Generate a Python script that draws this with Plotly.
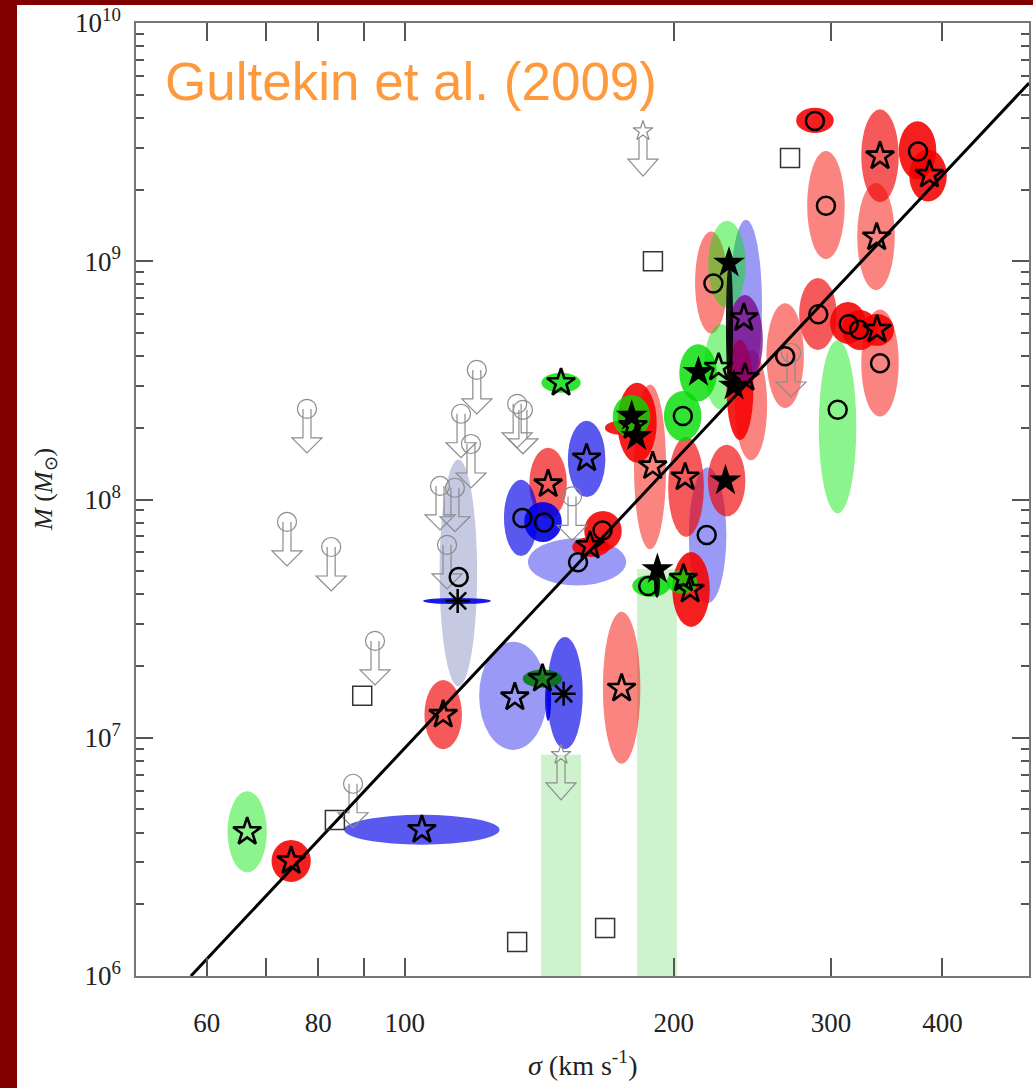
import plotly.graph_objects as go

# ---------------- data ----------------
x_tickvals = [60, 70, 80, 90, 100, 200, 300, 400]
x_ticktext = ["60", "", "80", "", "100", "200", "300", "400"]
y_tickvals = [1e6, 1e7, 1e8, 1e9, 1e10]
y_ticktext = ["10<sup>6</sup>", "10<sup>7</sup>", "10<sup>8</sup>", "10<sup>9</sup>", "10<sup>10</sup>"]

fit_sigma = [57.6, 500.0]
fit_mass = [1.0e6, 5.6e9]

# error ellipses: centre, half-size in dex, sample colour group
ell_sigma = [66.6, 74.6, 104.5, 110.4, 114.8, 114.4, 132.2, 151.1, 144.7, 142.6,
             149.6, 144.7, 159.8, 134.9, 142.8, 155.9, 166.7, 161.6, 182.0, 179.4,
             174.2, 188.2, 206.5, 204.7, 213.0, 220.3, 229.5, 241.0, 240.4, 231.0,
             226.0, 237.3, 244.2, 266.6, 290.1, 313.5, 323.3, 337.9, 340.5, 305.2,
             287.9, 296.2, 340.5, 337.0, 375.1, 385.4, 229.3, 218.3, 188.7, 204.4,
             209.2, 174.9, 191.6]
ell_mass = [4.03e6, 3.04e6, 4.11e6, 1.25e7, 4.92e7, 3.75e7, 1.50e7, 1.54e7, 1.44e7, 1.77e7,
            3.09e8, 1.17e8, 1.48e8, 8.37e7, 8.05e7, 5.47e7, 7.38e7, 6.32e7, 2.10e8, 2.23e8,
            2.00e8, 1.37e8, 1.13e8, 2.24e8, 3.40e8, 8.15e8, 9.70e8, 6.56e8, 4.67e8, 5.40e8,
            3.60e8, 2.88e8, 2.49e8, 4.02e8, 6.01e8, 5.51e8, 5.15e8, 5.15e8, 3.74e8, 2.02e8,
            3.90e9, 1.72e9, 2.77e9, 1.27e9, 2.92e9, 2.29e9, 1.20e8, 7.07e7, 4.34e7, 4.51e7,
            4.19e7, 1.62e7, 4.47e7]
ell_dsig = [0.022, 0.022, 0.087, 0.021, 0.021, 0.038, 0.038, 0.020, 0.0034, 0.022,
            0.022, 0.021, 0.021, 0.019, 0.021, 0.055, 0.021, 0.021, 0.022, 0.021,
            0.017, 0.018, 0.020, 0.021, 0.021, 0.018, 0.021, 0.018, 0.020, 0.004,
            0.019, 0.015, 0.018, 0.021, 0.021, 0.020, 0.020, 0.019, 0.021, 0.021,
            0.021, 0.021, 0.021, 0.021, 0.021, 0.021, 0.021, 0.021, 0.021, 0.017,
            0.021, 0.021, 0.0034]
ell_dmass = [0.170, 0.088, 0.063, 0.145, 0.476, 0.013, 0.227, 0.235, 0.088, 0.038,
             0.042, 0.149, 0.160, 0.160, 0.084, 0.099, 0.084, 0.042, 0.168, 0.090,
             0.029, 0.346, 0.210, 0.105, 0.120, 0.214, 0.183, 0.357, 0.189, 0.273,
             0.180, 0.210, 0.231, 0.220, 0.151, 0.088, 0.084, 0.067, 0.225, 0.363,
             0.053, 0.227, 0.195, 0.225, 0.122, 0.109, 0.151, 0.285, 0.046, 0.050,
             0.157, 0.319, 0.063]
ell_group = ["lgreen", "red", "blue", "mred", "gray", "dblue", "lblue", "blue", "dblue", "dgreen",
             "green", "mred", "blue", "blue", "dblue", "lblue", "red", "red", "red", "green",
             "red", "salmon", "mred", "green", "green", "salmon", "lgreen", "lblue", "purple", "black",
             "lgreen", "red", "salmon", "salmon", "mred", "red", "red", "red", "salmon", "lgreen",
             "red", "salmon", "mred", "salmon", "red", "red", "mred", "lblue", "green", "green",
             "red", "salmon", "black"]

open_star_sigma = [66.6, 74.6, 104.5, 110.4, 132.8, 142.6, 149.6, 144.7, 159.8, 161.2, 180.1, 189.5,
                   206.0, 224.6, 240.4, 239.7, 337.9, 340.5, 337.6, 386.8, 205.1, 208.7, 174.9]
open_star_mass = [4.03e6, 3.04e6, 4.11e6, 1.25e7, 1.48e7, 1.77e7, 3.09e8, 1.16e8, 1.49e8, 6.39e7,
                  2.04e8, 1.38e8, 1.24e8, 3.58e8, 3.24e8, 5.78e8, 5.17e8, 2.76e9, 1.26e9, 2.31e9,
                  4.66e7, 4.19e7, 1.61e7]

filled_star_sigma = [179.5, 181.8, 213.2, 230.7, 233.7, 228.6, 191.8]
filled_star_mass = [2.24e8, 1.84e8, 3.42e8, 9.84e8, 3.00e8, 1.20e8, 5.09e7]

circle_sigma = [114.9, 135.4, 143.2, 156.3, 166.5, 204.8, 221.6, 266.6, 290.4, 314.1, 322.7,
                340.5, 305.3, 287.9, 296.2, 375.6, 217.8, 187.3]
circle_mass = [4.73e7, 8.37e7, 8.01e7, 5.45e7, 7.42e7, 2.24e8, 8.07e8, 3.99e8, 5.99e8, 5.44e8,
               5.16e8, 3.73e8, 2.38e8, 3.88e9, 1.71e9, 2.89e9, 7.09e7, 4.33e7]

asterisk_sigma = [114.6, 150.6]
asterisk_mass = [3.75e7, 1.53e7]

square_sigma = [270.0, 189.6, 89.6, 83.5, 133.6, 167.6]
square_mass = [2.71e9, 1.00e9, 1.50e7, 4.52e6, 1.39e6, 1.59e6]

limit_circle_sigma = [73.8, 77.7, 82.7, 87.5, 92.6, 109.5, 111.5, 113.8, 115.6, 118.6, 120.4,
                      133.6, 135.6, 153.9, 270.7]
limit_circle_mass = [8.05e7, 2.40e8, 6.32e7, 6.41e6, 2.55e7, 1.14e8, 6.45e7, 1.12e8, 2.29e8,
                     1.71e8, 3.50e8, 2.52e8, 2.38e8, 1.03e8, 4.12e8]

limit_star_sigma = [184.8, 149.6]
limit_star_mass = [3.52e9, 8.48e6]

band_sigma_lo = [142.1, 182.0]
band_sigma_hi = [157.5, 201.7]
band_mass_top = [8.48e6, 5.11e7]

# ---------------- styles ----------------
group_style = {
    "gray":   ("rgb(110,120,180)", 0.40),
    "salmon": ("rgb(245,10,0)", 0.50),
    "lblue":  ("rgb(30,30,235)", 0.45),
    "lgreen": ("rgb(0,230,0)", 0.45),
    "mred":   ("rgb(240,0,0)", 0.65),
    "blue":   ("rgb(0,0,230)", 0.65),
    "red":    ("rgb(245,0,0)", 0.88),
    "green":  ("rgb(0,220,0)", 0.80),
    "dblue":  ("rgb(0,0,230)", 0.90),
    "dgreen": ("rgb(0,120,0)", 0.85),
    "purple": ("rgb(120,0,130)", 0.75),
    "black":  ("rgb(0,0,0)", 0.90),
}
draw_order = ["gray", "salmon", "lblue", "lgreen", "mred", "blue", "red", "green",
              "dblue", "dgreen", "purple", "black"]

GRAY = "#8c8c8c"
SERIF = "Liberation Serif, Times New Roman, serif"
FRAME = "#800000"

# plot area in pixels
L, R, T, B = 136, 4, 23, 112
W, H = 1033, 1088
pw, ph = W - L - R, H - T - B

shapes = []
# dark-red frame at left and top of the page
shapes.append(dict(type="rect", xref="paper", yref="paper",
                   x0=-L / pw - 0.05, x1=(17 - L) / pw, y0=-0.3, y1=1.2,
                   fillcolor=FRAME, line=dict(width=0), layer="below"))
shapes.append(dict(type="rect", xref="paper", yref="paper",
                   x0=-L / pw - 0.05, x1=1.2, y0=(H - B - 5) / ph, y1=1.2,
                   fillcolor=FRAME, line=dict(width=0), layer="below"))

for lo, hi, top in zip(band_sigma_lo, band_sigma_hi, band_mass_top):
    shapes.append(dict(type="rect", xref="x", yref="y", x0=lo, x1=hi, y0=1e6, y1=top,
                       fillcolor="rgb(60,200,60)", opacity=0.25, line=dict(width=0),
                       layer="below"))

for g in draw_order:
    col, op = group_style[g]
    for s, m, ds, dm, gg in zip(ell_sigma, ell_mass, ell_dsig, ell_dmass, ell_group):
        if gg != g:
            continue
        shapes.append(dict(type="circle", xref="x", yref="y",
                           x0=s * 10 ** (-ds), x1=s * 10 ** ds,
                           y0=m * 10 ** (-dm), y1=m * 10 ** dm,
                           fillcolor=col, opacity=op, line=dict(width=0), layer="below"))

arrow_circle = "M -4 0 L -4 -29 L -15 -29 L 0 -44 L 15 -29 L 4 -29 L 4 0"
arrow_star = "M -4 -7 L -4 -28 L -15 -28 L 0 -45 L 15 -28 L 4 -28 L 4 -7"
for s, m in zip(limit_circle_sigma, limit_circle_mass):
    shapes.append(dict(type="path", xref="x", yref="y", xsizemode="pixel", ysizemode="pixel",
                       xanchor=s, yanchor=m, path=arrow_circle,
                       line=dict(color=GRAY, width=1.2), layer="below"))
for s, m in zip(limit_star_sigma, limit_star_mass):
    shapes.append(dict(type="path", xref="x", yref="y", xsizemode="pixel", ysizemode="pixel",
                       xanchor=s, yanchor=m, path=arrow_star,
                       line=dict(color=GRAY, width=1.2), layer="below"))

fig = go.Figure()

fig.add_trace(go.Scatter(x=limit_circle_sigma, y=limit_circle_mass, mode="markers",
                         marker=dict(symbol="circle-open", size=19,
                                     line=dict(color=GRAY, width=1.2), color=GRAY)))
fig.add_trace(go.Scatter(x=limit_star_sigma, y=limit_star_mass, mode="markers",
                         marker=dict(symbol="star-open", size=15,
                                     line=dict(color=GRAY, width=1.2), color=GRAY)))
fig.add_trace(go.Scatter(x=fit_sigma, y=fit_mass, mode="lines",
                         line=dict(color="black", width=3)))
fig.add_trace(go.Scatter(x=square_sigma, y=square_mass, mode="markers",
                         marker=dict(symbol="square-open", size=19, color="#333",
                                     line=dict(color="#333", width=1.5))))
fig.add_trace(go.Scatter(x=circle_sigma, y=circle_mass, mode="markers",
                         marker=dict(symbol="circle-open", size=18, color="black",
                                     line=dict(color="black", width=2.5))))
fig.add_trace(go.Scatter(x=open_star_sigma, y=open_star_mass, mode="markers",
                         marker=dict(symbol="star-open", size=21, color="black",
                                     line=dict(color="black", width=2.6))))
fig.add_trace(go.Scatter(x=filled_star_sigma, y=filled_star_mass, mode="markers",
                         marker=dict(symbol="star", size=24, color="black",
                                     line=dict(width=0))))
fig.add_trace(go.Scatter(x=asterisk_sigma, y=asterisk_mass, mode="markers",
                         marker=dict(symbol="asterisk-open", size=20, color="black",
                                     line=dict(color="black", width=2.5))))
# invisible trace carrying the mirrored right-hand axis (for its minor ticks)
fig.add_trace(go.Scatter(x=fit_sigma, y=fit_mass, yaxis="y2", mode="lines",
                         line=dict(width=0), opacity=0, hoverinfo="skip"))

y_minor = [k * 10 ** n for n in range(6, 10) for k in range(2, 10)]
tick_style = dict(ticks="inside", tickwidth=1.5, tickcolor="#555")
minor_style = dict(ticks="inside", ticklen=8, tickwidth=1.5, tickcolor="#555",
                   tickmode="array", tickvals=y_minor, showgrid=False)

fig.update_layout(
    width=W, height=H,
    margin=dict(l=L, r=R, t=T, b=B, autoexpand=False),
    paper_bgcolor="white",
    plot_bgcolor="white",
    showlegend=False,
    shapes=shapes,
    xaxis=dict(type="log", range=[1.69897, 2.69897], tickmode="array",
               tickvals=x_tickvals, ticktext=x_ticktext, automargin=False,
               ticklen=18, **tick_style,
               showline=True, linecolor="#777", linewidth=1.5, mirror="ticks",
               showgrid=False, zeroline=False, ticklabelstandoff=22,
               tickfont=dict(family=SERIF, size=27, color="#222")),
    yaxis=dict(type="log", range=[6, 10], tickmode="array",
               tickvals=y_tickvals, ticktext=y_ticktext, automargin=False,
               ticklen=17, **tick_style,
               showline=True, linecolor="#777", linewidth=1.5, mirror=True,
               showgrid=False, zeroline=False, ticklabelstandoff=8,
               minor=minor_style,
               tickfont=dict(family=SERIF, size=27, color="#222")),
    yaxis2=dict(type="log", range=[6, 10], overlaying="y", side="right",
                tickmode="array", tickvals=y_tickvals, showticklabels=False,
                automargin=False, ticklen=17, **tick_style,
                showline=False, showgrid=False, zeroline=False, minor=minor_style),
    annotations=[
        dict(text="Gultekin et al. (2009)", xref="paper", yref="paper",
             x=(163 - L) / pw, y=(H - B - 82) / ph, xanchor="left", yanchor="middle",
             showarrow=False, font=dict(family="Liberation Sans, Arial, sans-serif",
                                        size=53, color="#FF9A3C")),
        dict(text="<i>σ</i> (km s<sup>-1</sup>)", xref="paper", yref="paper",
             x=0.5, y=(H - B - 1063) / ph, xanchor="center", yanchor="middle",
             showarrow=False, font=dict(family=SERIF, size=28, color="#222")),
        dict(text="<i>M</i> (<i>M</i><sub>⊙</sub>)", xref="paper", yref="paper",
             x=(45 - L) / pw, y=(H - B - 490) / ph, xanchor="center", yanchor="middle",
             textangle=-90, showarrow=False,
             font=dict(family=SERIF, size=26, color="#222")),
    ],
)

fig.write_html("out.html", config={"displayModeBar": False},
               post_script="document.body.style.margin='0px';document.body.style.overflow='hidden';")
